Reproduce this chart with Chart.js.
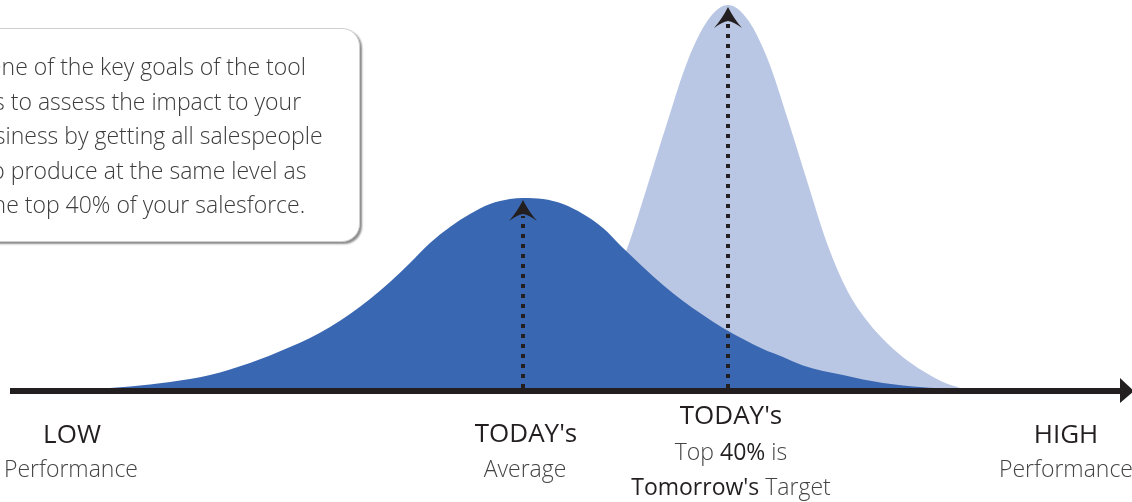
<!DOCTYPE html>
<html>
<head>
<meta charset="utf-8">
<script src="https://cdn.jsdelivr.net/npm/chart.js@4.4.1/dist/chart.umd.min.js"></script>
<style>
  html, body { margin: 0; padding: 0; background: #ffffff; }
  body { width: 1132px; height: 502px; overflow: hidden; position: relative; font-family: "Open Sans", "Noto Sans", sans-serif; }
  #wrap { position: absolute; left: 0; top: 0; width: 1132px; height: 502px; }
  .callout {
    position: absolute; left: -68px; top: 28px; width: 428px; height: 214px;
    border: 1px solid #cfcfcf; border-radius: 18px; background: #fff;
    box-shadow: 2px 2px 2px rgba(0,0,0,0.45);
    box-sizing: border-box;
  }
  .callout-text {
    position: absolute; left: -101px; top: 49px; width: 492px;
    font-size: 23px; line-height: 34.5px; color: #3c3c3c; font-weight: 300;
    text-align: center; white-space: nowrap;
  }
  .ln { position: absolute; transform: translateX(-50%); white-space: nowrap; line-height: normal; }
  .t { font-size: 26px; font-weight: 400; color: #231f20; }
  .s { font-size: 23px; font-weight: 300; color: #444; }
  .s b { font-weight: 400; color: #231f20; }
</style>
</head>
<body>
<div id="wrap"><canvas id="c" width="1132" height="502"></canvas></div>

<div class="callout"></div>
<div class="callout-text">One of the key goals of the tool<br>is to assess the impact to your<br>business by getting all salespeople<br>to produce at the same level as<br>the top 40% of your salesforce.</div>

<div class="ln t" style="left:72px; top:415px;">LOW</div>
<div class="ln s" style="left:71px; top:452px;">Performance</div>
<div class="ln t" style="left:526px; top:414px;">TODAY's</div>
<div class="ln s" style="left:525px; top:452px;">Average</div>
<div class="ln t" style="left:731px; top:396px;">TODAY's</div>
<div class="ln s" style="left:731px; top:435px;">Top <b>40%</b> is</div>
<div class="ln s" style="left:731px; top:470px;"><b>Tomorrow's</b> Target</div>
<div class="ln t" style="left:1066px; top:415px;">HIGH</div>
<div class="ln s" style="left:1066px; top:452px;">Performance</div>

<script>
// ---- Data (position along the performance axis, curve height above the axis) ----
const todayX = [110, 130, 150, 170, 190, 210, 230, 250, 270, 290, 310, 330, 350, 370, 390, 410, 430, 450, 470, 490, 510, 523,
                543, 563, 583, 603, 623, 643, 663, 683, 703, 723, 743, 763, 783, 803, 823, 843, 863, 883, 903, 923, 935];
const todayY = [0, 1.5, 3.5, 6, 9, 13, 18.5, 25, 32.5, 41, 50, 61, 74, 89, 106, 125, 145, 161, 174, 184, 189, 190,
                189, 184, 174, 160, 140, 121, 103, 87, 73, 60, 49, 39, 31, 22.5, 17, 13, 8.5, 5, 2.5, 0.8, 0];

const targetX = [496, 513, 528, 548, 568, 588, 608, 628, 648, 668, 688, 708, 728,
                 748, 768, 788, 808, 828, 848, 868, 888, 908, 928, 943, 960];
const targetY = [0, 6, 14, 27, 44, 66, 96, 142, 204, 268, 328, 368, 383,
                 368, 328, 268, 204, 142, 96, 66, 44, 27, 14, 6, 0];

const axisMin = 0, axisMax = 1132;
const heightMax = 388;

const darkBlue = '#3a67b1';
const lightBlue = '#b9c7e4';
const ink = '#231f20';

function pts(xs, ys) { return xs.map((x, i) => ({ x: x, y: ys[i] })); }
function peakOf(xs, ys) { let k = 0; ys.forEach((v, i) => { if (v > ys[k]) k = i; }); return { x: xs[k], y: ys[k] }; }

const overlay = {
  id: 'overlay',
  afterDatasetsDraw(chart) {
    const ctx = chart.ctx, xs = chart.scales.x, ys = chart.scales.y;
    const base = ys.getPixelForValue(0);
    ctx.save();
    // axis line with arrow
    ctx.fillStyle = ink;
    ctx.fillRect(10, base, 1112, 6);
    ctx.beginPath();
    ctx.moveTo(1120, base - 10);
    ctx.lineTo(1134, base + 3);
    ctx.lineTo(1120, base + 15);
    ctx.closePath();
    ctx.fill();
    // dotted arrows at each peak
    [peakOf(todayX, todayY), peakOf(targetX, targetY)].forEach(p => {
      const px = Math.round(xs.getPixelForValue(p.x));
      const tip = ys.getPixelForValue(p.y) + 2;
      ctx.strokeStyle = ink;
      ctx.lineWidth = 4;
      ctx.lineCap = 'butt';
      ctx.setLineDash([4, 6]);
      ctx.beginPath();
      ctx.moveTo(px, base);
      ctx.lineTo(px, tip + 16);
      ctx.stroke();
      ctx.setLineDash([]);
      ctx.beginPath();
      ctx.moveTo(px, tip);
      ctx.quadraticCurveTo(px + 6, tip + 12, px + 14, tip + 21);
      ctx.quadraticCurveTo(px + 6, tip + 15, px, tip + 14);
      ctx.quadraticCurveTo(px - 6, tip + 15, px - 14, tip + 21);
      ctx.quadraticCurveTo(px - 6, tip + 12, px, tip);
      ctx.closePath();
      ctx.fillStyle = ink;
      ctx.fill();
    });
    ctx.restore();
  }
};

new Chart(document.getElementById('c'), {
  type: 'line',
  data: {
    datasets: [
      { label: "Today's", data: pts(todayX, todayY), backgroundColor: darkBlue, borderWidth: 0, fill: 'origin', order: 0 },
      { label: "Target", data: pts(targetX, targetY), backgroundColor: lightBlue, borderWidth: 0, fill: 'origin', order: 1 }
    ]
  },
  options: {
    responsive: false,
    animation: false,
    layout: { padding: { left: 0, right: 0, top: 0, bottom: 114 } },
    elements: { point: { radius: 0 }, line: { cubicInterpolationMode: 'monotone' } },
    plugins: { legend: { display: false }, tooltip: { enabled: false } },
    scales: {
      x: { type: 'linear', min: axisMin, max: axisMax, display: false },
      y: { min: 0, max: heightMax, display: false }
    }
  },
  plugins: [overlay]
});
</script>
</body>
</html>
